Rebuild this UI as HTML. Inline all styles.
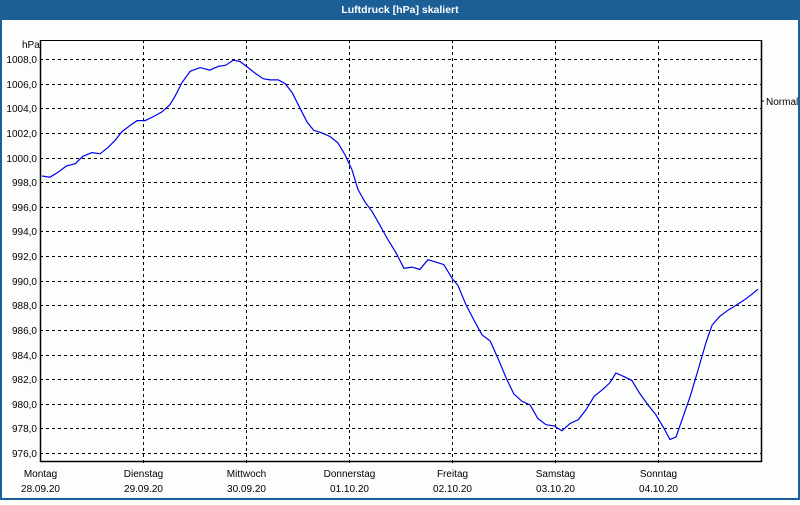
<!DOCTYPE html>
<html><head><meta charset="utf-8"><style>
body{margin:0;width:800px;height:500px;overflow:hidden;background:#fff;font-family:"Liberation Sans",Tahoma,sans-serif}
</style></head><body>
<svg id="c" width="800" height="500" style="font-family:'Liberation Sans',sans-serif;font-size:10px">
<rect x="0" y="0" width="800" height="500" fill="#1c5f96"/>
<rect x="2" y="20" width="796" height="478" fill="#fcfefc"/>
<text x="400" y="13" fill="#fff" font-weight="bold" font-size="10.5" text-anchor="middle">Luftdruck [hPa] skaliert</text>
<text x="22" y="48" font-size="10">hPa</text>
<g id="grid"></g><g id="axes"></g><g id="series"></g>
<text x="766" y="105" font-size="10">Normal</text>
<line x1="761" y1="101" x2="764" y2="101" stroke="#000"/>
</svg>
<script>
const hours=[0.5,2.3,4.2,6.1,8.2,10.0,12.1,14.0,15.8,17.5,19.1,21.0,22.6,24.5,26.3,28.4,30.3,31.5,33.1,35.0,37.3,39.6,41.5,43.3,45.0,46.6,48.5,50.3,52.0,53.6,55.5,57.1,58.7,60.6,62.2,63.8,65.7,67.6,69.4,71.1,72.7,74.1,75.7,77.4,79.2,81.1,82.9,84.8,86.7,88.5,90.4,92.3,94.1,96.0,97.4,99.3,101.1,103.0,104.9,106.7,108.6,110.4,112.3,114.2,116.0,117.9,119.8,121.6,123.5,125.4,127.2,129.1,130.9,132.8,134.2,136.1,137.9,139.8,141.7,143.5,145.4,146.8,148.2,149.6,151.5,153.3,155.2,156.6,158.4,160.3,162.2,164.0,165.9,167.3];
const pressure=[998.5,998.4,998.8,999.3,999.5,1000.1,1000.4,1000.3,1000.8,1001.4,1002.1,1002.6,1003.0,1003.0,1003.3,1003.7,1004.3,1005.0,1006.1,1007.0,1007.3,1007.1,1007.4,1007.5,1007.9,1007.8,1007.3,1006.8,1006.4,1006.3,1006.3,1006.0,1005.3,1004.0,1002.9,1002.2,1002.0,1001.7,1001.2,1000.2,999.0,997.4,996.4,995.6,994.5,993.3,992.3,991.0,991.1,990.9,991.7,991.5,991.3,990.2,989.6,988.0,986.8,985.6,985.1,983.7,982.1,980.8,980.2,979.9,978.8,978.3,978.2,977.8,978.4,978.7,979.5,980.6,981.1,981.7,982.5,982.2,981.9,980.8,979.9,979.1,978.0,977.1,977.3,978.7,980.6,982.7,985.0,986.4,987.1,987.6,988.0,988.4,988.9,989.3];
const dayNames=["Montag","Dienstag","Mittwoch","Donnerstag","Freitag","Samstag","Sonntag"];
const dayDates=["28.09.20","29.09.20","30.09.20","01.10.20","02.10.20","03.10.20","04.10.20"];
const yTicks=[976,978,980,982,984,986,988,990,992,994,996,998,1000,1002,1004,1006,1008];
const L=40,R=761,T=40,B=461;
const xS=h=>L+(h/168)*(R-L);
const yS=p=>59+(1008-p)*(453-59)/32;
const NS="http://www.w3.org/2000/svg";
function mk(t,a,parent){const e=document.createElementNS(NS,t);for(const k in a)e.setAttribute(k,a[k]);document.getElementById(parent).appendChild(e);return e;}
yTicks.forEach(v=>{const y=Math.round(yS(v))+0.5;
 const l=mk('line',{x1:L,x2:R,y1:y,y2:y,stroke:'#000','stroke-dasharray':'3,3'},'grid');
 
 
 const t=mk('text',{x:L-3,y:y+3.5,'text-anchor':'end','font-size':'10'},'grid');t.textContent=v.toFixed(1).replace('.',',');
 
 
});
dayNames.forEach((d,i)=>{const x=Math.round(xS(i*24))+0.5;
 if(i>0){const l=mk('line',{x1:x,x2:x,y1:T,y2:B+4,stroke:'#000','stroke-dasharray':'3,3'},'grid');
 
 }
 const t=mk('text',{x:x,y:477,'text-anchor':'middle','font-size':'10'},'axes');t.textContent=d;
 
 
 const t2=mk('text',{x:x,y:492,'text-anchor':'middle','font-size':'10'},'axes');t2.textContent=dayDates[i];
 
 
});
const fr=mk('path',{d:`M${L+0.5},${T} V${B+0.5} H${R+0.5} V${T}`,fill:'none',stroke:'#000','stroke-width':1.5},'axes');


const tp=mk('line',{x1:L,x2:R,y1:T+0.5,y2:T+0.5,stroke:'#000'},'axes');


const pts=hours.map((h,i)=>xS(h).toFixed(1)+','+yS(pressure[i]).toFixed(1)).join(' ');
const pl=mk('polyline',{points:pts,fill:'none',stroke:'#0000ee','stroke-width':1.2},'series');


</script>
</body></html>
